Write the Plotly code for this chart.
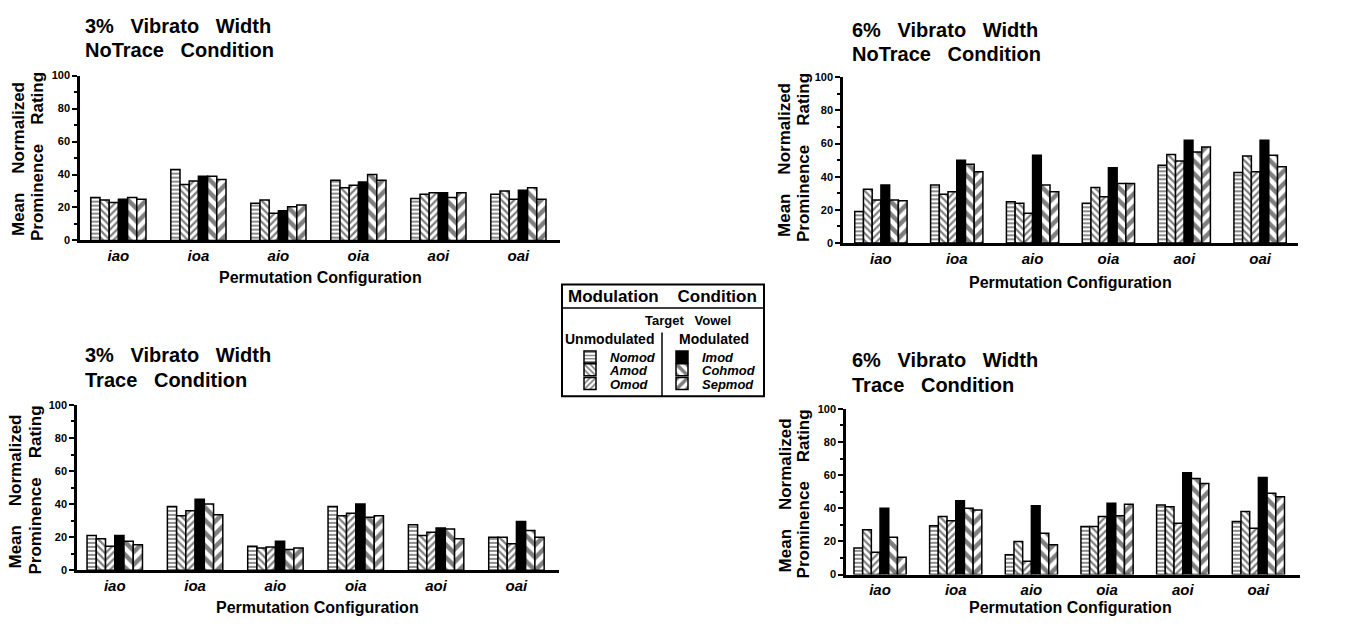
import plotly.graph_objects as go

W, H = 1352, 626

configs = ["iao", "ioa", "aio", "oia", "aoi", "oai"]
conditions = ["Nomod", "Amod", "Omod", "Imod", "Cohmod", "Sepmod"]

# 3% vibrato width, NoTrace
w3_notrace_nomod = [26, 43, 22.5, 36.5, 25.5, 28]
w3_notrace_amod = [24.5, 34, 24.5, 32, 28, 30]
w3_notrace_omod = [23, 36, 16.5, 33.5, 29, 25]
w3_notrace_imod = [25, 39, 18, 35.5, 29, 30.5]
w3_notrace_cohmod = [26, 39, 20.5, 40, 26, 32]
w3_notrace_sepmod = [25, 37, 21.5, 36.5, 29, 25]

# 6% vibrato width, NoTrace
w6_notrace_nomod = [19, 35, 25, 24, 47, 42.5]
w6_notrace_amod = [32.5, 29.5, 24, 33.5, 53.5, 52.5]
w6_notrace_omod = [26, 31, 18, 28, 49.5, 43]
w6_notrace_imod = [35, 50, 53, 45.5, 62, 62]
w6_notrace_cohmod = [26, 47.5, 35, 36, 55, 53]
w6_notrace_sepmod = [25.5, 43, 31, 36, 58, 46]

# 3% vibrato width, Trace
w3_trace_nomod = [21, 38.5, 14.5, 38.5, 27.5, 20]
w3_trace_amod = [19, 33, 13.5, 33, 21, 20]
w3_trace_omod = [14.5, 36, 14, 34.5, 23, 16]
w3_trace_imod = [21, 43, 17.5, 40, 25.5, 29.5]
w3_trace_cohmod = [17.5, 40, 12.5, 32, 25, 24]
w3_trace_sepmod = [15.5, 33.5, 13.5, 33, 19, 20]

# 6% vibrato width, Trace
w6_trace_nomod = [16, 29.5, 12, 29, 42, 32]
w6_trace_amod = [27, 35, 20, 29, 41, 38]
w6_trace_omod = [13.5, 32.5, 8, 35, 31, 28]
w6_trace_imod = [40, 44.5, 41.5, 43, 61.5, 58.5]
w6_trace_cohmod = [22.5, 40, 25, 35.5, 58, 49]
w6_trace_sepmod = [10.5, 39, 18, 42.5, 55, 47]

panels = [
    dict(title1="3%   Vibrato   Width", title2="NoTrace   Condition",
         data=[w3_notrace_nomod, w3_notrace_amod, w3_notrace_omod,
               w3_notrace_imod, w3_notrace_cohmod, w3_notrace_sepmod],
         xdom=(80, 560), xr=(-0.48, 5.52), y0=239, y100=71,
         t1=(83, 20), t2=(83, 45), yt1=(18, 156), yt2=(37, 154), xtitle=(320, 277)),
    dict(title1="6%   Vibrato   Width", title2="NoTrace   Condition",
         data=[w6_notrace_nomod, w6_notrace_amod, w6_notrace_omod,
               w6_notrace_imod, w6_notrace_cohmod, w6_notrace_sepmod],
         xdom=(843, 1298), xr=(-0.5, 5.5), y0=241.7, y100=72.7,
         t1=(850, 24), t2=(850, 49), yt1=(785, 157), yt2=(803, 155), xtitle=(1070, 282)),
    dict(title1="3%   Vibrato   Width", title2="Trace   Condition",
         data=[w3_trace_nomod, w3_trace_amod, w3_trace_omod,
               w3_trace_imod, w3_trace_cohmod, w3_trace_sepmod],
         xdom=(77, 559), xr=(-0.47, 5.53), y0=575.3, y100=406.7,
         t1=(83, 356), t2=(83, 381), yt1=(16, 495), yt2=(36, 494), xtitle=(317, 613)),
    dict(title1="6%   Vibrato   Width", title2="Trace   Condition",
         data=[w6_trace_nomod, w6_trace_amod, w6_trace_omod,
               w6_trace_imod, w6_trace_cohmod, w6_trace_sepmod],
         xdom=(846, 1300), xr=(-0.45, 5.55), y0=579.7, y100=410.7,
         t1=(850, 361), t2=(850, 386), yt1=(785, 499), yt2=(803, 498), xtitle=(1070, 613)),
]

styles = {
    "Nomod": dict(color="white", pattern=dict(shape="-", fgcolor="black", bgcolor="white", size=4, solidity=0.45)),
    "Amod": dict(color="white", pattern=dict(shape="\\", fgcolor="black", bgcolor="white", size=5, solidity=0.45)),
    "Omod": dict(color="white", pattern=dict(shape="/", fgcolor="black", bgcolor="white", size=5, solidity=0.45)),
    "Imod": dict(color="black"),
    "Cohmod": dict(color="white", pattern=dict(shape="\\", fgcolor="black", bgcolor="white", size=9, solidity=0.5)),
    "Sepmod": dict(color="white", pattern=dict(shape="/", fgcolor="black", bgcolor="white", size=9, solidity=0.5)),
}

# legend entry positions (swatch centre x, centre y) in pixels
legend_pos = {
    "Nomod": (590, 358), "Amod": (590, 371), "Omod": (590, 385),
    "Imod": (682, 358), "Cohmod": (682, 371), "Sepmod": (682, 385),
}

FONT = "Arial, Liberation Sans, sans-serif"


def px(x):
    return x / W


def py(y):
    return 1 - y / H


fig = go.Figure()
annotations = []
layout = {}

for i, p in enumerate(panels):
    sfx = "" if i == 0 else str(i + 1)
    xa, ya = "x" + sfx, "y" + sfx
    for j, cond in enumerate(conditions):
        st = styles[cond]
        marker = dict(color=st["color"], line=dict(color="black", width=1.5))
        if "pattern" in st:
            marker["pattern"] = st["pattern"]
        fig.add_trace(go.Bar(
            x=configs, y=p["data"][j], name=cond, xaxis=xa, yaxis=ya,
            marker=marker, showlegend=(i == 0),
            legend="legend" if j == 0 else "legend" + str(j + 1),
        ))
    layout["xaxis" + sfx] = dict(
        domain=[px(p["xdom"][0]), px(p["xdom"][1])], range=list(p["xr"]),
        anchor=ya, showline=True, linecolor="black", linewidth=2.5,
        ticks="", showgrid=False, zeroline=False, fixedrange=True,
        tickfont=dict(family=FONT, size=15, color="black", weight="bold", style="italic"),
        ticklabelstandoff=0,
    )
    layout["yaxis" + sfx] = dict(
        domain=[py(p["y0"]), py(p["y100"])], range=[0, 100],
        anchor=xa, showline=True, linecolor="black", linewidth=2.5,
        ticks="outside", ticklen=5, tickwidth=1.5, tickcolor="black",
        tickvals=[0, 20, 40, 60, 80, 100],
        minor=dict(tickvals=[10, 30, 50, 70, 90], ticks="outside", ticklen=3, tickwidth=1.5, tickcolor="black"),
        showgrid=False, zeroline=False, fixedrange=True,
        tickfont=dict(family=FONT, size=11, color="black", weight="bold"),
    )
    for key, txt in (("t1", p["title1"]), ("t2", p["title2"])):
        annotations.append(dict(
            x=px(p[key][0]), y=py(p[key][1]), xref="paper", yref="paper",
            xanchor="left", yanchor="middle", text=txt, showarrow=False,
            font=dict(family=FONT, size=20, color="black", weight="bold"),
        ))
    for key, txt in (("yt1", "Mean    Normalized"), ("yt2", "Prominence    Rating")):
        annotations.append(dict(
            x=px(p[key][0]), y=py(p[key][1]), xref="paper", yref="paper",
            xanchor="center", yanchor="middle", textangle=-90,
            text=txt, showarrow=False,
            font=dict(family=FONT, size=17, color="black", weight="bold"),
        ))
    annotations.append(dict(
        x=px(p["xtitle"][0]), y=py(p["xtitle"][1]), xref="paper", yref="paper",
        xanchor="center", yanchor="middle", text="Permutation Configuration",
        showarrow=False, font=dict(family=FONT, size=16, color="black", weight="bold"),
    ))

# legend box annotations
lab_font = dict(family=FONT, size=14, color="black", weight="bold")
annotations += [
    dict(x=px(662), y=py(296), xref="paper", yref="paper", xanchor="center", yanchor="middle",
         text="Modulation    Condition", showarrow=False,
         font=dict(family=FONT, size=17, color="black", weight="bold")),
    dict(x=px(688), y=py(321), xref="paper", yref="paper", xanchor="center", yanchor="middle",
         text="Target   Vowel", showarrow=False,
         font=dict(family=FONT, size=13, color="black", weight="bold")),
    dict(x=px(609), y=py(339), xref="paper", yref="paper", xanchor="center", yanchor="middle",
         text="Unmodulated", showarrow=False, font=lab_font),
    dict(x=px(714), y=py(339), xref="paper", yref="paper", xanchor="center", yanchor="middle",
         text="Modulated", showarrow=False, font=lab_font),
]

shapes = [
    dict(type="rect", xref="paper", yref="paper", x0=px(562), x1=px(764), y0=py(284), y1=py(398),
         line=dict(color="black", width=2), fillcolor="rgba(0,0,0,0)"),
    dict(type="line", xref="paper", yref="paper", x0=px(562), x1=px(764), y0=py(308), y1=py(308),
         line=dict(color="black", width=1.5)),
    dict(type="line", xref="paper", yref="paper", x0=px(662), x1=px(662), y0=py(333), y1=py(398),
         line=dict(color="black", width=1.5)),
]

leg_font = dict(family=FONT, size=13, color="black", weight="bold", style="italic")
for j, cond in enumerate(conditions):
    key = "legend" if j == 0 else "legend" + str(j + 1)
    cx, cy = legend_pos[cond]
    layout[key] = dict(x=px(cx - 20), y=py(cy), xanchor="left", yanchor="middle",
                       bgcolor="rgba(0,0,0,0)", font=leg_font,
                       itemwidth=30, borderwidth=0)

fig.update_layout(
    width=W, height=H, margin=dict(l=0, r=0, t=0, b=0),
    paper_bgcolor="white", plot_bgcolor="white",
    barmode="group", bargap=0.31, bargroupgap=0,
    annotations=annotations, shapes=shapes,
    font=dict(family=FONT, color="black"),
    **layout,
)

fig.write_html("out.html", config={"displayModeBar": False},
               post_script="document.body.style.margin='0';document.body.style.overflow='hidden';")
